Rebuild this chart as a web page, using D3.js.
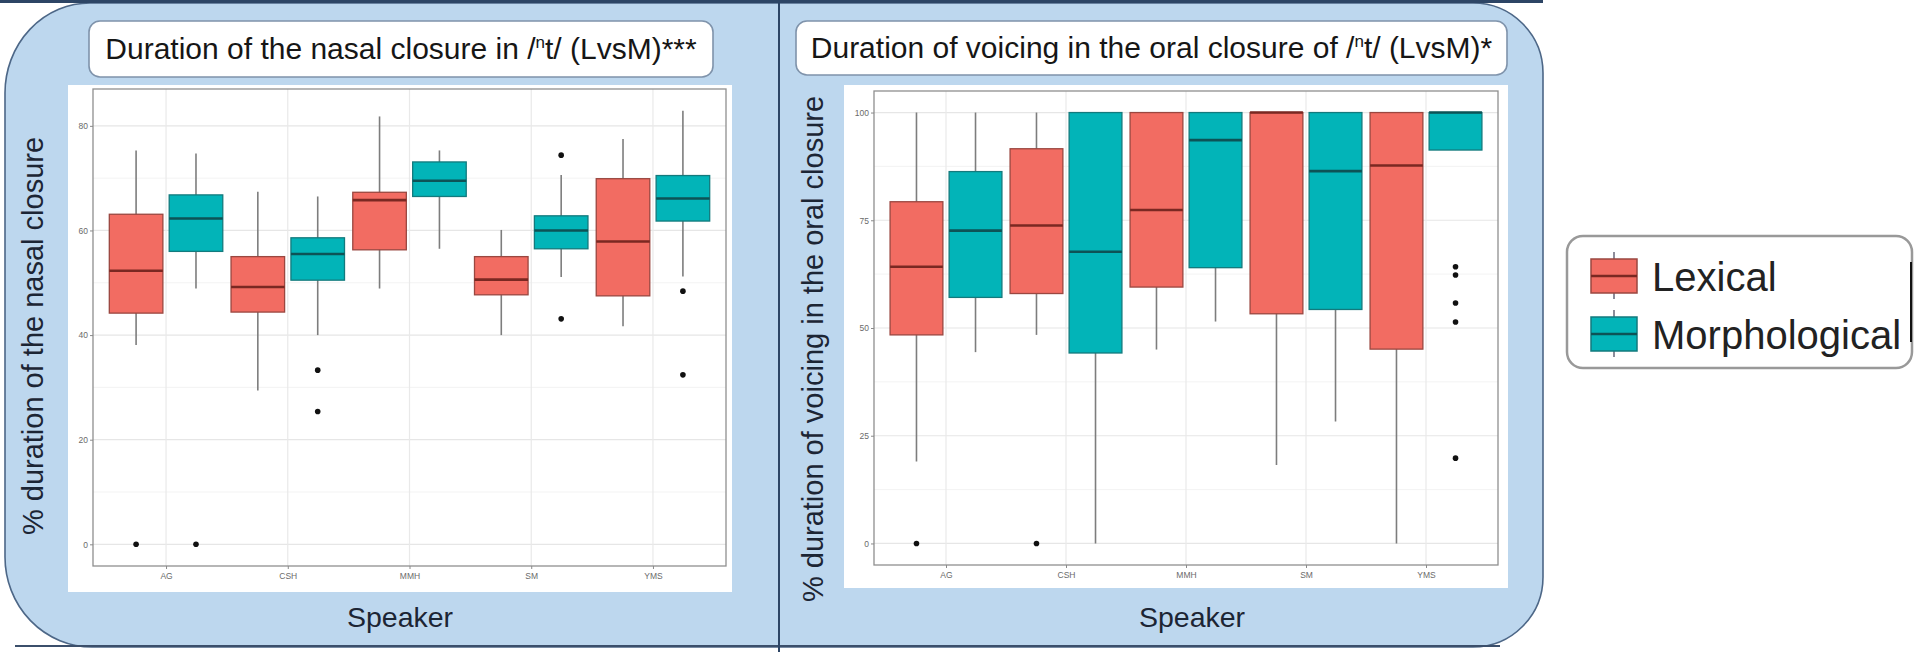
<!DOCTYPE html>
<html><head><meta charset="utf-8">
<script src="https://cdn.jsdelivr.net/npm/d3@7"></script>
<style>
html,body{margin:0;padding:0;background:#fff;}
svg{display:block;}
text{font-family:"Liberation Sans",Arial,Helvetica,sans-serif;}
</style>
</head><body>
<svg id="c" width="1918" height="652"></svg>
<script>
// ---------------- DATA ----------------
const speakers = ["AG", "CSH", "MMH", "SM", "YMS"];
const groups = ["Lexical", "Morphological"];

// five-number summaries per speaker: [lower whisker, Q1, median, Q3, upper whisker]
const nasalLexical = [
  [38.1, 44.2, 52.3, 63.1, 75.3],
  [29.4, 44.4, 49.2, 55.0, 67.4],
  [48.9, 56.3, 65.8, 67.3, 81.8],
  [40.0, 47.7, 50.6, 55.0, 60.1],
  [41.7, 47.5, 57.9, 69.9, 77.5]
];
const nasalMorph = [
  [48.9, 56.0, 62.3, 66.8, 74.7],
  [40.0, 50.5, 55.5, 58.6, 66.5],
  [56.5, 66.5, 69.5, 73.1, 75.3],
  [51.1, 56.5, 60.0, 62.8, 70.6],
  [51.2, 61.8, 66.1, 70.5, 82.9]
];
const nasalLexicalOut = [[0], [], [], [], []];
const nasalMorphOut = [[0], [33.3, 25.4], [], [74.4, 43.1], [48.4, 32.4]];

const voiceLexical = [
  [19.0, 48.4, 64.2, 79.3, 100],
  [48.4, 58.0, 73.8, 91.6, 100],
  [45.0, 59.5, 77.4, 100, 100],
  [18.2, 53.3, 100, 100, 100],
  [0.0, 45.1, 87.7, 100, 100]
];
const voiceMorph = [
  [44.4, 57.1, 72.6, 86.3, 100],
  [0.0, 44.2, 67.7, 100, 100],
  [51.5, 64.0, 93.6, 100, 100],
  [28.3, 54.3, 86.4, 100, 100],
  [91.3, 91.3, 100, 100, 100]
];
const voiceLexicalOut = [[0], [0], [], [], []];
const voiceMorphOut = [[], [], [], [], [64.2, 62.3, 55.8, 51.4, 19.8]];

const nasalTicks = [0, 20, 40, 60, 80];
const nasalMinor = [10, 30, 50, 70];
const voiceTicks = [0, 25, 50, 75, 100];
const voiceMinor = [12.5, 37.5, 62.5, 87.5];

const nasalTitle = ["Duration of the nasal closure in /", "n", "t/ (LvsM)***"];
const voiceTitle = ["Duration of voicing in the oral closure of /", "n", "t/ (LvsM)*"];
const nasalYLabel = "% duration of the nasal closure";
const voiceYLabel = "% duration of voicing in the oral closure";
const xLabel = "Speaker";

// ---------------- STYLE ----------------
const fills = {Lexical: "#F26C62", Morphological: "#02B4B8"};
const edges = {Lexical: "#9a4740", Morphological: "#137a7d"};
const medians = {Lexical: "#7a2822", Morphological: "#0d5356"};
const panelBlue = "#bdd7ee";
const navy = "#2d4565";

const svg = d3.select("#c");

// ---------------- BACKGROUND PANELS ----------------
svg.append("path")
  .attr("d", "M90,3 H1473 A70,70 0 0 1 1543,73 V577 A70,70 0 0 1 1473,647 H92 A87,90 0 0 1 5,557 V93 A85,90 0 0 1 90,3 Z")
  .attr("fill", panelBlue)
  .attr("stroke", "#4d6787")
  .attr("stroke-width", 1.6);
svg.append("rect").attr("x", 0).attr("y", 0).attr("width", 1543).attr("height", 3).attr("fill", navy);
svg.append("line").attr("x1", 15).attr("x2", 1500).attr("y1", 646).attr("y2", 646)
  .attr("stroke", "#3b4f6b").attr("stroke-width", 2);
svg.append("line").attr("x1", 779).attr("x2", 779).attr("y1", 0).attr("y2", 652)
  .attr("stroke", navy).attr("stroke-width", 2);

// ---------------- CHART ----------------
function drawChart(cfg) {
  const g = svg.append("g");
  // white plot image
  g.append("rect").attr("x", cfg.bg[0]).attr("y", cfg.bg[1])
    .attr("width", cfg.bg[2] - cfg.bg[0]).attr("height", cfg.bg[3] - cfg.bg[1])
    .attr("fill", "#fff");

  const x = d3.scalePoint().domain(speakers).range([cfg.left, cfg.right]).padding(0.6);
  const step = x.step();
  const dodge = d3.scalePoint().domain(groups).range([-0.246 * step, 0.246 * step]);
  const bw = 0.44 * step;

  const allVals = [];
  [cfg.lex, cfg.morph].forEach(arr => arr.forEach(r => allVals.push(...r)));
  [cfg.lexOut, cfg.morphOut].forEach(arr => arr.forEach(r => allVals.push(...r)));
  const lo = d3.min(allVals), hi = d3.max(allVals), pad = (hi - lo) * 0.05;
  const y = d3.scaleLinear().domain([lo - pad, hi + pad]).range([cfg.bottom, cfg.top]);

  // grid
  g.selectAll(".minor").data(cfg.minor).join("line")
    .attr("x1", cfg.left).attr("x2", cfg.right)
    .attr("y1", d => y(d)).attr("y2", d => y(d))
    .attr("stroke", "#f0f0f0").attr("stroke-width", 0.8);
  g.selectAll(".major").data(cfg.ticks).join("line")
    .attr("x1", cfg.left).attr("x2", cfg.right)
    .attr("y1", d => y(d)).attr("y2", d => y(d))
    .attr("stroke", "#e6e6e6").attr("stroke-width", 1.2);
  g.selectAll(".vgrid").data(speakers).join("line")
    .attr("x1", d => x(d)).attr("x2", d => x(d))
    .attr("y1", cfg.top).attr("y2", cfg.bottom)
    .attr("stroke", "#e9e9e9").attr("stroke-width", 1.2);

  // boxes
  const rows = [];
  speakers.forEach((s, i) => {
    rows.push({s, grp: "Lexical", v: cfg.lex[i], out: cfg.lexOut[i]});
    rows.push({s, grp: "Morphological", v: cfg.morph[i], out: cfg.morphOut[i]});
  });
  const bx = d => x(d.s) + dodge(d.grp);

  g.selectAll(".wh").data(rows).join("line")
    .attr("x1", bx).attr("x2", bx)
    .attr("y1", d => y(d.v[0])).attr("y2", d => y(d.v[4]))
    .attr("stroke", "#7d7d7d").attr("stroke-width", 1.6);
  g.selectAll(".box").data(rows).join("rect")
    .attr("x", d => bx(d) - bw / 2).attr("width", bw)
    .attr("y", d => y(d.v[3])).attr("height", d => Math.max(0.5, y(d.v[1]) - y(d.v[3])))
    .attr("fill", d => fills[d.grp]).attr("stroke", d => edges[d.grp]).attr("stroke-width", 1.3);
  g.selectAll(".med").data(rows).join("line")
    .attr("x1", d => bx(d) - bw / 2).attr("x2", d => bx(d) + bw / 2)
    .attr("y1", d => y(d.v[2])).attr("y2", d => y(d.v[2]))
    .attr("stroke", d => medians[d.grp]).attr("stroke-width", 2.6);
  const pts = [];
  rows.forEach(r => r.out.forEach(o => pts.push({s: r.s, grp: r.grp, o})));
  g.selectAll(".out").data(pts).join("circle")
    .attr("cx", d => x(d.s) + dodge(d.grp)).attr("cy", d => y(d.o)).attr("r", 2.8)
    .attr("fill", "#111");

  // frame
  g.append("rect").attr("x", cfg.left).attr("y", cfg.top)
    .attr("width", cfg.right - cfg.left).attr("height", cfg.bottom - cfg.top)
    .attr("fill", "none").attr("stroke", "#8f8f8f").attr("stroke-width", 1.3);

  // axes
  const ay = g.append("g").attr("transform", `translate(${cfg.left},0)`)
    .call(d3.axisLeft(y).tickValues(cfg.ticks).tickSize(3).tickPadding(2));
  const ax = g.append("g").attr("transform", `translate(0,${cfg.bottom})`)
    .call(d3.axisBottom(x).tickSize(3).tickPadding(4));
  [ay, ax].forEach(a => {
    a.select(".domain").remove();
    a.selectAll("line").attr("stroke", "#8a8a8a");
    a.selectAll("text").attr("fill", "#6a6a6a").style("font-size", "8.5px")
      .style("font-family", "'Liberation Sans',Arial,sans-serif");
  });

  // title box
  g.append("rect").attr("x", cfg.tb[0]).attr("y", cfg.tb[1])
    .attr("width", cfg.tb[2] - cfg.tb[0]).attr("height", cfg.tb[3] - cfg.tb[1])
    .attr("rx", 11).attr("fill", "#fff").attr("stroke", "#7f93ab").attr("stroke-width", 1.6);
  const t = g.append("text").attr("x", (cfg.tb[0] + cfg.tb[2]) / 2).attr("y", cfg.titleY)
    .attr("text-anchor", "middle").style("font-size", "30px").attr("fill", "#161616");
  t.append("tspan").text(cfg.title[0]);
  t.append("tspan").attr("dy", -11).style("font-size", "17px").text(cfg.title[1]);
  t.append("tspan").attr("dy", 11).text(cfg.title[2]);

  // axis titles
  g.append("text").attr("x", cfg.xlabX).attr("y", 627).attr("text-anchor", "middle")
    .style("font-size", "28.5px").attr("fill", "#1c2534").text(xLabel);
  g.append("text").attr("transform", `translate(${cfg.ylabX},${cfg.ylabY}) rotate(-90)`)
    .attr("text-anchor", "middle").style("font-size", "29px").attr("fill", "#1c2534")
    .text(cfg.ylab);
}

drawChart({
  bg: [68, 85, 732, 592], left: 93, right: 726, top: 89, bottom: 566,
  lex: nasalLexical, morph: nasalMorph, lexOut: nasalLexicalOut, morphOut: nasalMorphOut,
  ticks: nasalTicks, minor: nasalMinor,
  tb: [89, 21, 713, 77], title: nasalTitle, titleY: 59,
  xlabX: 400, ylab: nasalYLabel, ylabX: 43, ylabY: 336
});
drawChart({
  bg: [844, 85, 1508, 588], left: 874, right: 1498, top: 91, bottom: 565,
  lex: voiceLexical, morph: voiceMorph, lexOut: voiceLexicalOut, morphOut: voiceMorphOut,
  ticks: voiceTicks, minor: voiceMinor,
  tb: [796, 21, 1507, 75], title: voiceTitle, titleY: 58,
  xlabX: 1192, ylab: voiceYLabel, ylabX: 823, ylabY: 349
});

// ---------------- LEGEND ----------------
const lg = svg.append("g");
lg.append("rect").attr("x", 1567).attr("y", 236).attr("width", 345).attr("height", 132)
  .attr("rx", 16).attr("fill", "#fff").attr("stroke", "#999").attr("stroke-width", 2.5);
lg.append("line").attr("x1", 1911).attr("x2", 1911).attr("y1", 262).attr("y2", 342)
  .attr("stroke", "#111").attr("stroke-width", 2);
const ly = d3.scalePoint().domain(groups).range([276, 334]);
const keyX = 1614, keyW = 46, keyH = 34;
lg.selectAll(".kw").data(groups).join("line")
  .attr("x1", keyX).attr("x2", keyX)
  .attr("y1", d => ly(d) - 24).attr("y2", d => ly(d) + 23)
  .attr("stroke", "#8d8d9a").attr("stroke-width", 2);
lg.selectAll(".kb").data(groups).join("rect")
  .attr("x", keyX - keyW / 2).attr("width", keyW)
  .attr("y", d => ly(d) - keyH / 2).attr("height", keyH)
  .attr("fill", d => fills[d]).attr("stroke", d => edges[d]).attr("stroke-width", 1.5);
lg.selectAll(".km").data(groups).join("line")
  .attr("x1", keyX - keyW / 2).attr("x2", keyX + keyW / 2)
  .attr("y1", d => ly(d)).attr("y2", d => ly(d))
  .attr("stroke", d => medians[d]).attr("stroke-width", 2.6);
lg.selectAll(".kt").data(groups).join("text")
  .attr("x", 1652).attr("y", d => ly(d) + 15)
  .style("font-size", "40px").attr("fill", "#222").text(d => d);
</script>
</body></html>
